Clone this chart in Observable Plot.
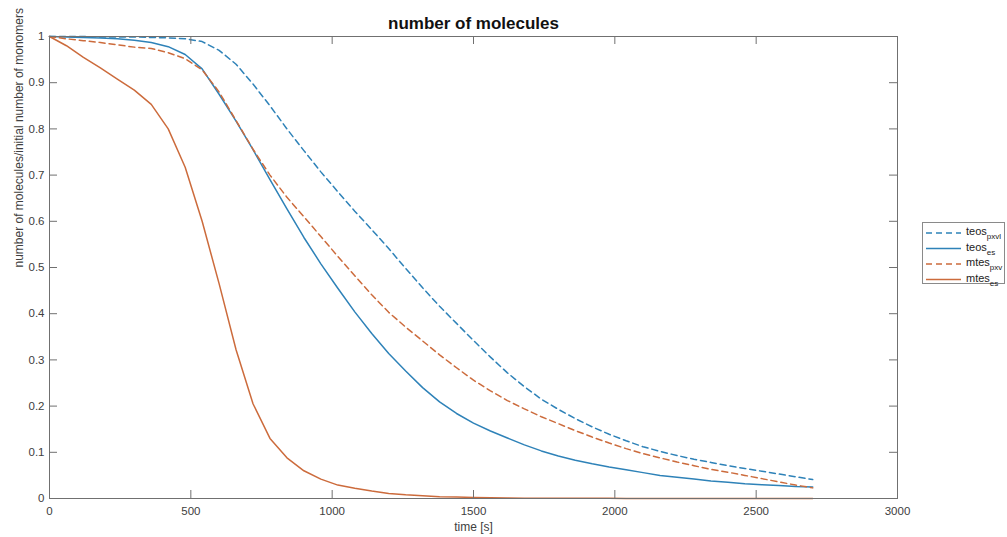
<!DOCTYPE html>
<html>
<head>
<meta charset="utf-8">
<script src="https://cdn.jsdelivr.net/npm/d3@7"></script>
<script src="https://cdn.jsdelivr.net/npm/@observablehq/plot@0.6"></script>
<style>
  html, body { margin: 0; padding: 0; background: #fff; }
  #wrap { position: relative; width: 1007px; height: 537px; font-family: "Liberation Sans", Arial, sans-serif; }
</style>
</head>
<body>
<div id="wrap"></div>
<script>
// ---- data ----
const time = [0,60,120,180,240,300,360,420,480,540,600,660,720,780,840,900,960,1020,1080,1140,1200,1260,1320,1380,1440,1500,1560,1620,1680,1740,1800,1860,1920,1980,2040,2100,2160,2220,2280,2340,2400,2460,2520,2580,2640,2700];

const teosPxvl = [1.0,1.0,1.0,0.999,0.999,0.999,0.998,0.997,0.995,0.989,
  0.970,0.940,0.897,0.850,0.800,0.753,0.707,0.664,0.622,0.582,
  0.541,0.498,0.456,0.416,0.379,0.342,0.306,0.272,0.242,0.215,
  0.193,0.173,0.155,0.139,0.125,0.112,0.102,0.093,0.085,0.078,
  0.071,0.065,0.059,0.053,0.047,0.041];

const teosEs = [1.0,0.999,0.998,0.997,0.995,0.992,0.987,0.978,0.961,0.930,
  0.875,0.817,0.755,0.690,0.627,0.565,0.508,0.455,0.404,0.357,
  0.314,0.276,0.240,0.209,0.184,0.163,0.146,0.131,0.116,0.103,
  0.092,0.083,0.075,0.068,0.062,0.056,0.050,0.046,0.042,0.038,
  0.035,0.032,0.030,0.028,0.026,0.025];

const mtesPxv = [1.0,0.995,0.991,0.987,0.982,0.977,0.974,0.965,0.952,0.928,
  0.880,0.818,0.756,0.700,0.652,0.610,0.567,0.524,0.482,0.441,
  0.403,0.371,0.341,0.311,0.283,0.256,0.233,0.212,0.194,0.177,
  0.162,0.147,0.133,0.120,0.108,0.097,0.088,0.079,0.071,0.063,
  0.057,0.050,0.043,0.036,0.029,0.023];

const mtesEs = [1.0,0.980,0.955,0.932,0.908,0.884,0.853,0.800,0.717,0.600,
  0.465,0.322,0.205,0.130,0.088,0.060,0.042,0.029,0.022,0.016,
  0.011,0.008,0.006,0.004,0.003,0.002,0.0015,0.001,0.0008,0.0006,
  0.0005,0.0004,0.0003,0.0003,0.0002,0.0002,0.0001,0.0001,0.0001,0.0001,
  0,0,0,0,0,0];

const xTicks = [0,500,1000,1500,2000,2500,3000];
const yTicks = [0,0.1,0.2,0.3,0.4,0.5,0.6,0.7,0.8,0.9,1];

const seriesNames = ["teos_pxvl","teos_es","mtes_pxv","mtes_es"];
const seriesBase = ["teos","teos","mtes","mtes"];
const seriesSub = ["pxvl","es","pxv","es"];
const seriesColor = ["#2e82b8","#2e82b8","#cc6b3c","#cc6b3c"];
const seriesDash = ["6,4", null, "6,4", null];
const seriesValues = [teosPxvl, teosEs, mtesPxv, mtesEs];

const titleText = "number of molecules";
const xLabel = "time [s]";
const yLabel = "number of molecules/initial number of monomers";

// ---- build tidy table ----
const rows = [];
seriesNames.forEach((name, i) => {
  time.forEach((t, j) => rows.push({series: name, t, v: seriesValues[i][j]}));
});

// ---- layout ----
const W = 1007, H = 537;
const mL = 49, mR = 110, mT = 36, mB = 39;
const frameW = W - mL - mR, frameH = H - mT - mB;
const tickLen = 8;
const axisColor = "#707070";

const lineMarks = seriesNames.map((name, i) =>
  Plot.line(rows.filter(d => d.series === name), {
    x: "t", y: "v",
    stroke: seriesColor[i],
    strokeWidth: 1.5,
    strokeDasharray: seriesDash[i] || undefined
  })
);

const chart = Plot.plot({
  width: W, height: H,
  marginLeft: mL, marginRight: mR, marginTop: mT, marginBottom: mB,
  style: {fontFamily: "'Liberation Sans', Arial, sans-serif", fontSize: "11.5px", color: "#404040", background: "#fff"},
  x: {domain: [0, 3000]},
  y: {domain: [0, 1]},
  marks: [
    ...lineMarks,
    Plot.frame({stroke: axisColor, strokeWidth: 1}),
    // inward ticks on all four sides
    Plot.tickX(xTicks, {x: d => d, insetTop: frameH - tickLen, stroke: axisColor}),
    Plot.tickX(xTicks, {x: d => d, insetBottom: frameH - tickLen, stroke: axisColor}),
    Plot.tickY(yTicks, {y: d => d, insetRight: frameW - tickLen, stroke: axisColor}),
    Plot.tickY(yTicks, {y: d => d, insetLeft: frameW - tickLen, stroke: axisColor}),
    Plot.axisX({ticks: xTicks, tickSize: 0, tickPadding: 8, tickFormat: d => String(d), label: null}),
    Plot.axisY({ticks: yTicks, tickSize: 0, tickPadding: 5, tickFormat: d => d3.format("~g")(d), label: null}),
    Plot.text([titleText], {frameAnchor: "top", dy: -8, lineAnchor: "bottom", fontWeight: "bold", fontSize: 17, fill: "#111"}),
    Plot.text([xLabel], {frameAnchor: "bottom", dy: 29, lineAnchor: "middle", fontSize: 12, fill: "#404040"}),
    Plot.text([yLabel], {frameAnchor: "left", dx: -30, rotate: -90, lineAnchor: "middle", fontSize: 12, fill: "#404040"})
  ]
});

document.getElementById("wrap").appendChild(chart);

// ---- legend (MATLAB style box at the right) ----
const svg = d3.select(chart);
const lg = svg.append("g").attr("transform", "translate(922,222)")
  .attr("font-family", "'Liberation Sans', Arial, sans-serif")
  .attr("text-anchor", "start");
lg.append("rect").attr("x", 0.5).attr("y", 0.5).attr("width", 82).attr("height", 61)
  .attr("fill", "#fff").attr("stroke", "#8a8a8a");
seriesNames.forEach((name, i) => {
  const cy = 11 + i * 15.5;
  lg.append("line").attr("x1", 4).attr("x2", 39).attr("y1", cy).attr("y2", cy)
    .attr("stroke", seriesColor[i]).attr("stroke-width", 1.5)
    .attr("stroke-dasharray", seriesDash[i]);
  const t = lg.append("text").attr("x", 44).attr("y", cy + 2).attr("font-size", 11)
    .attr("text-anchor", "start").attr("fill", "#222");
  t.append("tspan").text(seriesBase[i]);
  t.append("tspan").attr("dy", 4).attr("font-size", 8).text(seriesSub[i]);
});
</script>
</body>
</html>
